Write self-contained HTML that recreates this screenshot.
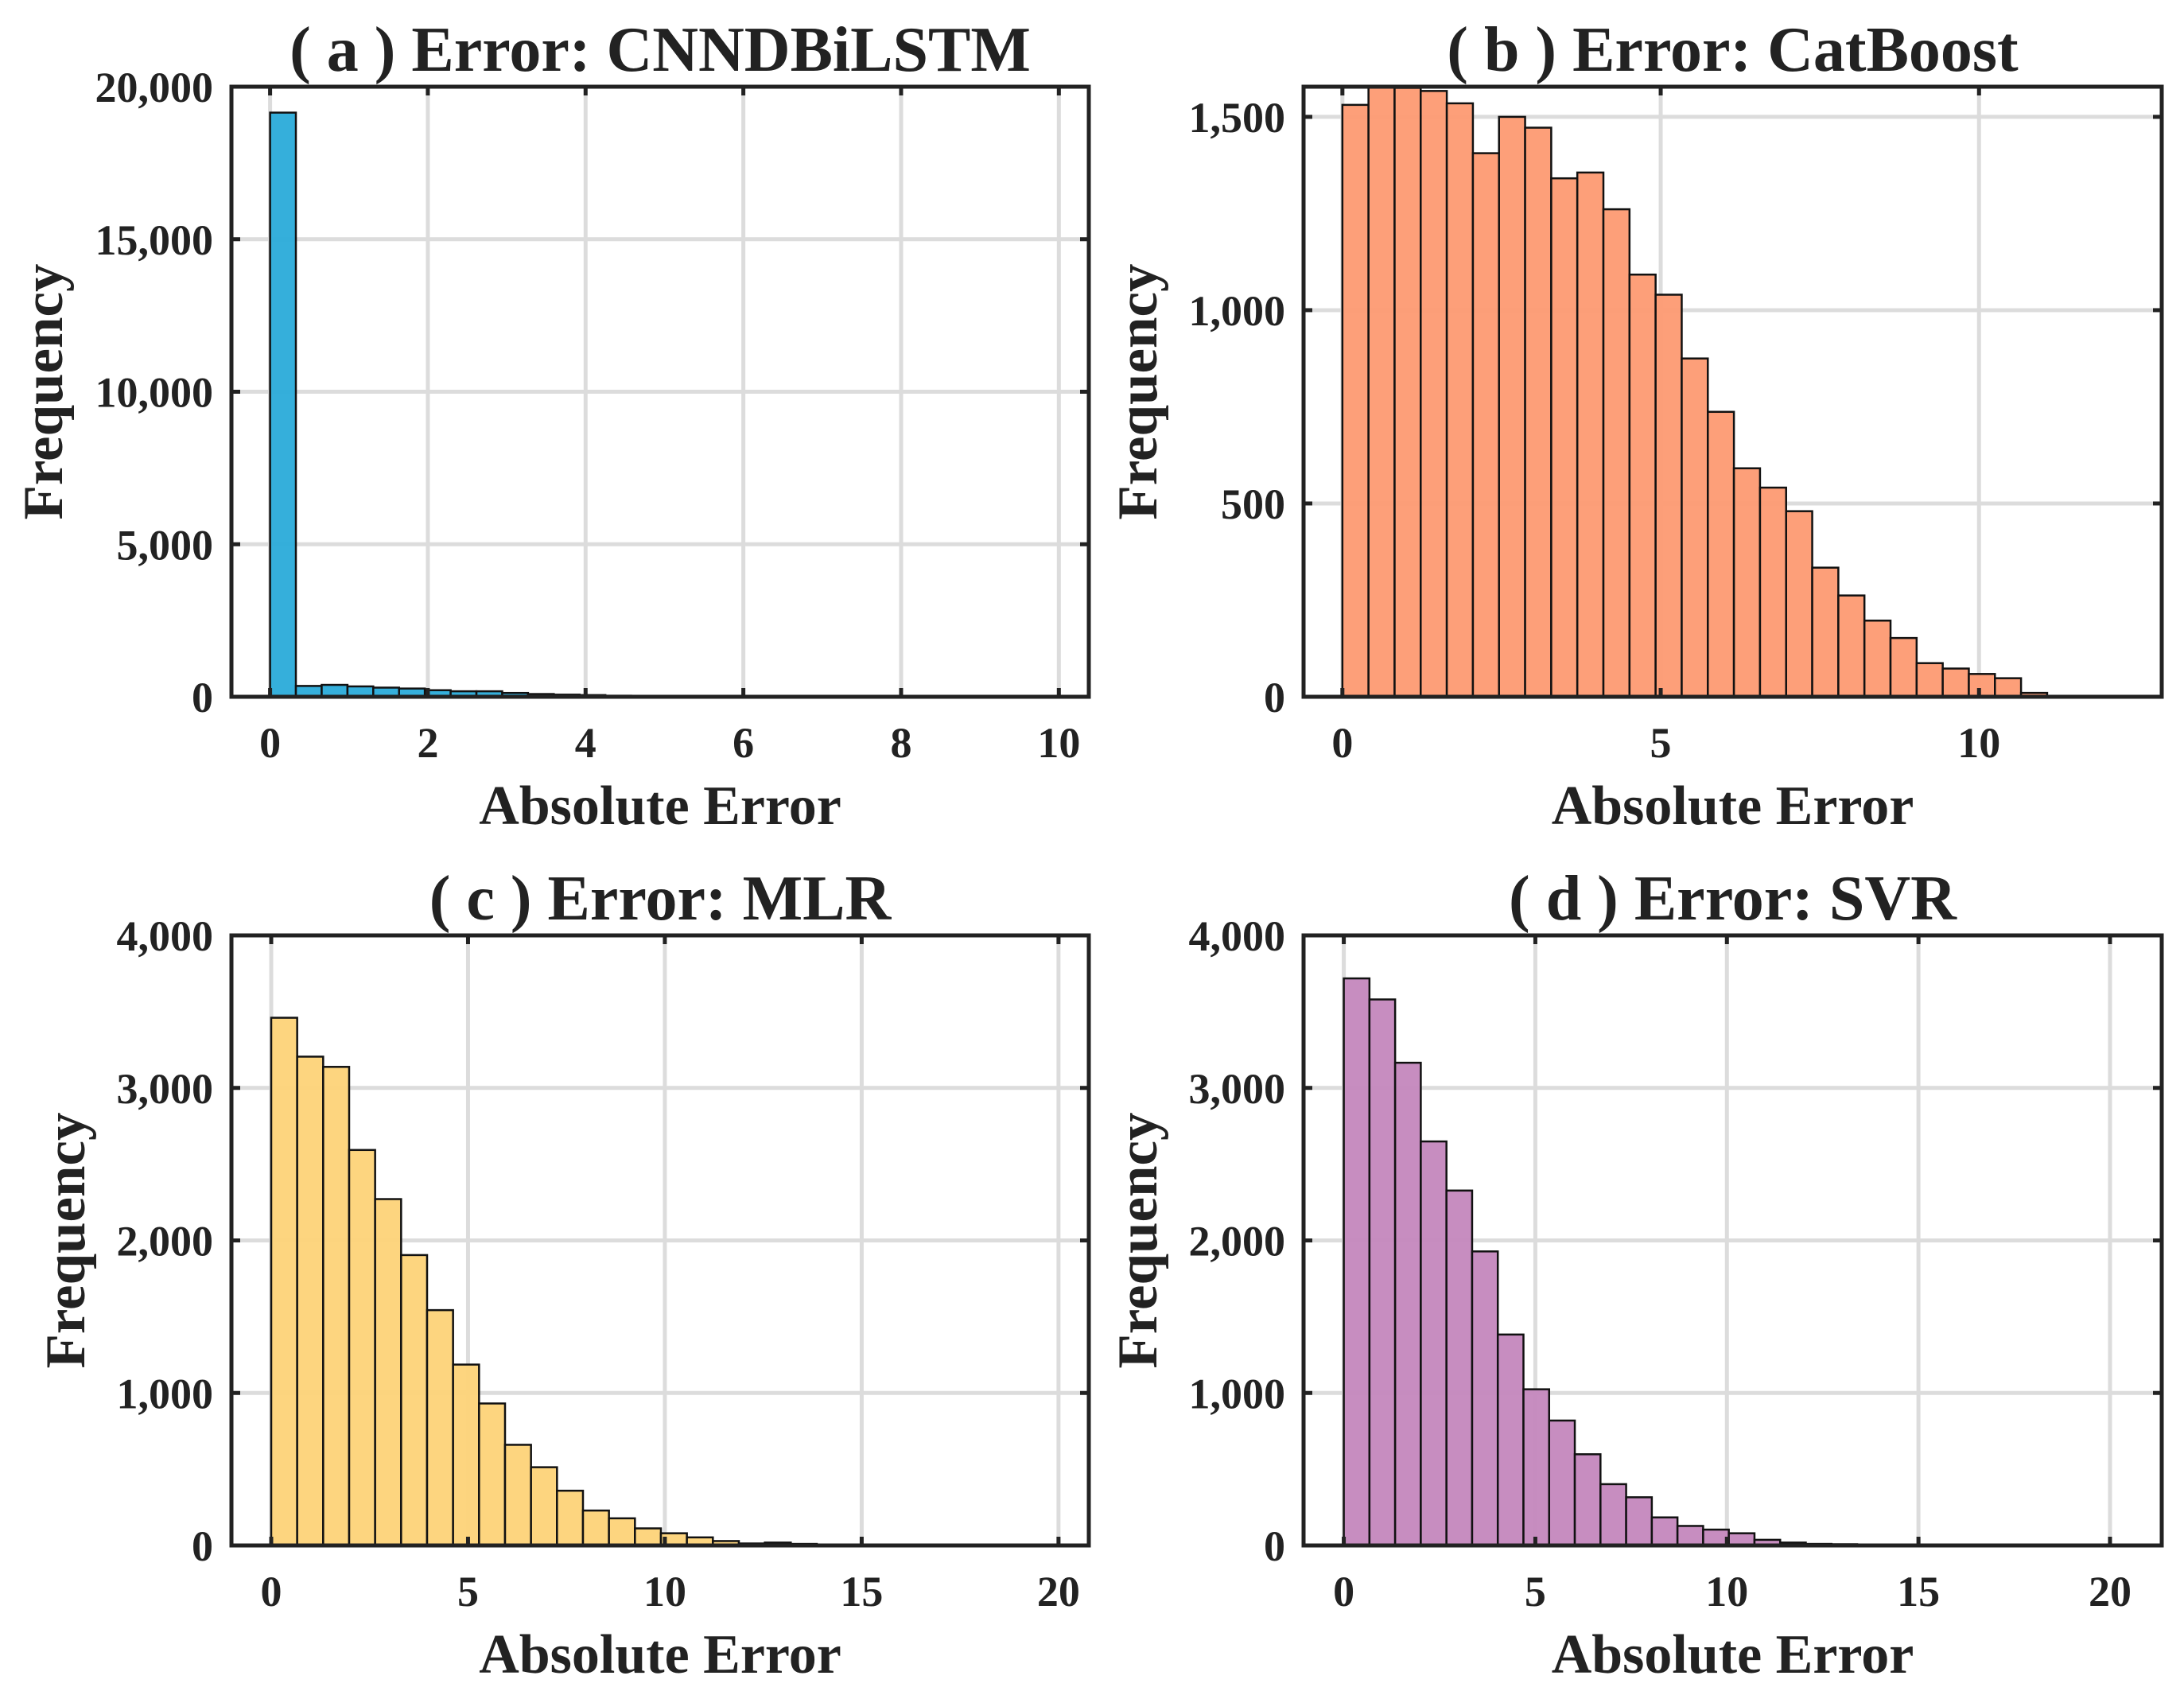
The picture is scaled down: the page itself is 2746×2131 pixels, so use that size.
<!DOCTYPE html>
<html><head><meta charset="utf-8"><style>
html,body{margin:0;padding:0;background:#fff}
svg{display:block}
text{font-family:"Liberation Serif",serif;font-weight:bold;fill:#222}
</style></head><body>
<svg id="fig" xmlns="http://www.w3.org/2000/svg" width="2746" height="2131" viewBox="0 0 2746 2131"></svg>
<script>
const countsA = [19150,355,390,340,300,270,215,180,180,125,90,70,55,35,20,12,8,5,3,2,1,1,0,0,0,0,0,0,0,0];
const countsB = [1531,1580,1575,1567,1535,1406,1500,1472,1341,1356,1261,1092,1040,875,737,591,541,480,334,262,197,152,87,73,59,48,10,2,1,1];
const countsC = [3460,3205,3138,2593,2271,1904,1543,1186,931,660,513,359,229,178,112,80,53,29,13,19,10,3,2,1,0,0,0,0,0,0];
const countsD = [3718,3580,3165,2649,2327,1928,1383,1024,819,598,402,316,184,128,104,80,37,19,10,8,5,3,2,1,0,0,0,0,0,0];
const binWidths = [0.327, 0.41, 0.66, 0.67];
const titles = ["( a ) Error: CNNDBiLSTM","( b ) Error: CatBoost","( c ) Error: MLR","( d ) Error: SVR"];
const xTicksA = [0,2,4,6,8,10];
const xTicksB = [0,5,10];
const xTicksC = [0,5,10,15,20];
const xTicksD = [0,5,10,15,20];
const yTicksA = [0,5000,10000,15000,20000];
const yTicksB = [0,500,1000,1500];
const yTicksC = [0,1000,2000,3000,4000];
const yTicksD = [0,1000,2000,3000,4000];
const xLims = [[-0.49,10.38],[-0.61,12.87],[-1.01,20.77],[-1.05,21.35]];
const yMaxes = [20000,1578,4000,4000];

const NS="http://www.w3.org/2000/svg";
const svg=document.getElementById('fig');
function mk(tag,attrs,parent){const e=document.createElementNS(NS,tag);for(const k in attrs)e.setAttribute(k,attrs[k]);(parent||svg).appendChild(e);return e;}
const panels=[
 {L:291,R:1369,T:109,B:876,counts:countsA,xt:xTicksA,yt:yTicksA,color:"#2aabd9",name:"panel-a",fo:213},
 {L:1639,R:2718,T:109,B:876,counts:countsB,xt:xTicksB,yt:yTicksB,color:"#fd9a72",name:"panel-b",fo:185},
 {L:291,R:1369,T:1176,B:1943,counts:countsC,xt:xTicksC,yt:yTicksC,color:"#fdd378",name:"panel-c",fo:185},
 {L:1639,R:2718,T:1176,B:1943,counts:countsD,xt:xTicksD,yt:yTicksD,color:"#c487bd",name:"panel-d",fo:185}];
panels.forEach((p,i)=>{
  const g=mk('g',{});
  
  
  const [x0,x1]=xLims[i], ym=yMaxes[i];
  const X=v=>p.L+(v-x0)/(x1-x0)*(p.R-p.L);
  const Y=v=>p.B-v/ym*(p.B-p.T);
  p.xt.forEach(t=>{const l=mk('line',{x1:X(t),x2:X(t),y1:p.T,y2:p.B,stroke:"#dcdcdc","stroke-width":5},g);
    });
  p.yt.forEach(t=>{const l=mk('line',{x1:p.L,x2:p.R,y1:Y(t),y2:Y(t),stroke:"#dcdcdc","stroke-width":5},g);
    });
  const w=binWidths[i];
  p.counts.forEach((c,k)=>{
    const top=Math.max(Y(c),p.T);
    const r=mk('rect',{x:X(k*w),y:top,width:X((k+1)*w)-X(k*w),height:p.B-top,fill:p.color,"fill-opacity":0.95,stroke:"#111","stroke-width":2.5},g);
    
    
  });
  const f=mk('rect',{x:p.L,y:p.T,width:p.R-p.L,height:p.B-p.T,fill:"none",stroke:"#222","stroke-width":5},g);
  
  p.xt.forEach(t=>{
    mk('line',{x1:X(t),x2:X(t),y1:p.B,y2:p.B-11,stroke:"#222","stroke-width":5},g);
    mk('line',{x1:X(t),x2:X(t),y1:p.T,y2:p.T+11,stroke:"#222","stroke-width":5},g);
    const tx=mk('text',{x:X(t),y:p.B+76,"text-anchor":"middle","font-size":54},g);
    tx.textContent=t;
    
  });
  p.yt.forEach(t=>{
    mk('line',{x1:p.L,x2:p.L+11,y1:Y(t),y2:Y(t),stroke:"#222","stroke-width":5},g);
    mk('line',{x1:p.R,x2:p.R-11,y1:Y(t),y2:Y(t),stroke:"#222","stroke-width":5},g);
    const ty=mk('text',{x:p.L-23,y:Y(t)+19,"text-anchor":"end","font-size":54},g);
    ty.textContent=t.toLocaleString('en-US');
    
  });
  const tt=mk('text',{x:(p.L+p.R)/2,y:p.T-20,"text-anchor":"middle","font-size":80},g);
  tt.textContent=titles[i];
  
  const xl=mk('text',{x:(p.L+p.R)/2,y:p.B+160,"text-anchor":"middle","font-size":70},g);
  xl.textContent="Absolute Error";
  
  const cy=(p.T+p.B)/2, cx=p.L-p.fo;
  const yl=mk('text',{x:cx,y:cy,"text-anchor":"middle","font-size":71,transform:`rotate(-90 ${cx} ${cy})`},g);
  yl.textContent="Frequency";
  
});
</script>
</body></html>
